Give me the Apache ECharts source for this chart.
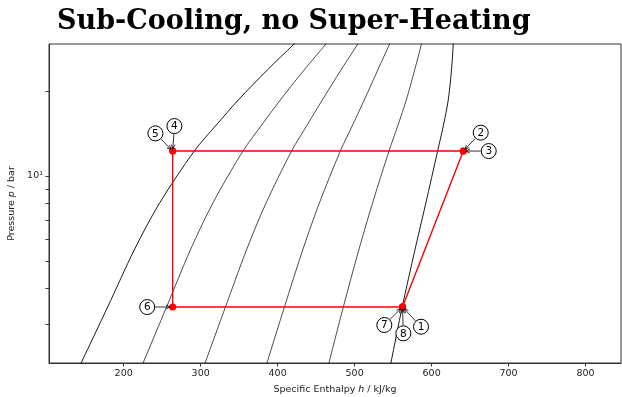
<!DOCTYPE html>
<html><head><meta charset="utf-8">
<script src="https://cdn.jsdelivr.net/npm/echarts@6/dist/echarts.min.js"></script>
<style>html,body{margin:0;padding:0;background:#fff}#c{width:622px;height:397px}</style>
</head><body><div id="c"></div>
<script>
// Saturation / quality isolines (propane-like), pressure in bar, enthalpy in kJ/kg
const pressureLevels = [2.0, 2.184, 3.444, 5.477, 7.963, 12.25, 15.14, 18.56, 23.70, 29.27, 31.0];
const hSatLiquid = [138.0, 144.7, 179.2, 213.7, 245.9, 291.7, 320.3, 348.9, 386.6, 421.4, 430.9];
const hQuality20 = [219.3, 225.2, 255.7, 286.6, 315.2, 354.9, 379.3, 403.4, 434.4, 462.7, 470.4];
const hQuality40 = [300.5, 305.7, 332.2, 359.5, 384.4, 418.1, 438.3, 458.0, 482.3, 504.1, 509.9];
const hQuality60 = [381.8, 386.1, 408.8, 432.5, 453.7, 481.4, 497.4, 512.5, 530.1, 545.4, 549.4];
const hQuality80 = [463.0, 466.6, 485.3, 505.4, 522.9, 544.6, 556.4, 567.1, 578.0, 586.8, 588.9];
const hSatVapor = [544.3, 547.1, 561.8, 578.3, 592.2, 607.8, 615.4, 621.6, 625.8, 628.1, 628.4];

// Cycle states
const stateNames = ['1', '2', '3', '4', '5', '6', '7', '8'];
const stateH = [562.2, 641.2, 641.2, 263.7, 263.7, 263.7, 562.2, 562.2];
const stateP = [3.444, 12.25, 12.25, 12.25, 12.25, 3.444, 3.444, 3.444];

// Axis ticks
const xTickValues = [200, 300, 400, 500, 600, 700, 800];
const yTickValues = [3, 4, 5, 6, 7, 8, 9, 10, 20];
const yLabelValues = [10];

// Layout: annotation circle offsets (pixels) from each state marker
const labelOffsets = {
  '1': [18.5, 19.7], '2': [17.4, -18.4], '3': [25.4, 0], '4': [1.7, -25],
  '5': [-17.3, -17.7], '6': [-25.5, 0], '7': [-18.2, 18], '8': [0.8, 26.3]
};

const FONT = 'DejaVu Sans';
const isoSets = [hSatLiquid, hQuality20, hQuality40, hQuality60, hQuality80, hSatVapor];
const isoSeries = isoSets.map((hs, k) => ({
  type: 'line',
  data: pressureLevels.map((p, i) => [hs[i], p]),
  showSymbol: false, symbol: 'none', silent: true, clip: true,
  smooth: 0.3,
  lineStyle: { color: '#000', width: (k === 0 || k === 5) ? 0.9 : 0.7 },
  z: 2
}));

const cycleData = stateNames.map((n, i) => [stateH[i], stateP[i]]);
cycleData.push([stateH[0], stateP[0]]);

const chart = echarts.init(document.getElementById('c'), null, { renderer: 'canvas' });
chart.setOption({
  animation: false,
  backgroundColor: '#fff',
  title: {
    text: 'Sub-Cooling, no Super-Heating',
    left: 57, top: 8, padding: 0,
    textStyle: { fontFamily: 'DejaVu Serif', fontWeight: 'bold', fontSize: 27, color: '#000' }
  },
  grid: { left: 49, right: 1, top: 44, bottom: 34, show: true, borderColor: '#333', borderWidth: 1,
    containLabel: false, outerBoundsMode: 'none' },
  xAxis: {
    type: 'value', min: 103, max: 846,
    name: 'Specific Enthalpy {i|h} / kJ/kg', nameLocation: 'middle', nameGap: 22,
    nameTextStyle: { fontFamily: FONT, fontSize: 9.5, color: '#222', rich: { i: { fontStyle: 'italic', fontFamily: FONT, fontSize: 9.5, color: '#222' } } },
    axisLine: { show: true, lineStyle: { color: '#333', width: 1 } },
    axisTick: { show: true, length: 3.5, customValues: xTickValues, lineStyle: { color: '#333' } },
    axisLabel: { customValues: xTickValues, fontFamily: FONT, fontSize: 9.5, color: '#222', margin: 6 },
    splitLine: { show: false }
  },
  yAxis: {
    type: 'log', logBase: 10, min: 2.184, max: 29.27,
    name: 'Pressure {i|p} / bar', nameLocation: 'middle', nameGap: 30, nameRotate: 90,
    nameTextStyle: { fontFamily: FONT, fontSize: 9.5, color: '#222', rich: { i: { fontStyle: 'italic', fontFamily: FONT, fontSize: 9.5, color: '#222' } } },
    axisLine: { show: true, lineStyle: { color: '#333', width: 1 } },
    axisTick: { show: true, length: 3.5, customValues: yTickValues, lineStyle: { color: '#333' } },
    axisLabel: { customValues: yLabelValues, fontFamily: FONT, fontSize: 9.5, color: '#222', margin: 6,
      formatter: v => (Math.abs(v - 10) < 1e-6 ? '10¹' : '') },
    splitLine: { show: false }, minorTick: { show: false }
  },
  series: isoSeries.concat([
    {
      type: 'line', data: cycleData, symbol: 'circle', symbolSize: 7, showSymbol: true,
      itemStyle: { color: '#ff0000' }, lineStyle: { color: '#ff0000', width: 1.4 }, z: 5, silent: true
    },
    {
      type: 'custom', z: 10, clip: false, silent: true,
      data: stateNames.map((n, i) => [stateH[i], stateP[i]]),
      renderItem: function (params, api) {
        const pt = api.coord([api.value(0), api.value(1)]);
        const name = stateNames[params.dataIndex];
        const off = labelOffsets[name];
        const cx = pt[0] + off[0], cy = pt[1] + off[1];
        const r = 7.5;
        const vx = pt[0] - cx, vy = pt[1] - cy;
        const d = Math.hypot(vx, vy);
        const ux = vx / d, uy = vy / d;
        const sx = cx + ux * (r + 0.5), sy = cy + uy * (r + 0.5);
        const ex = pt[0] - ux * 2.5, ey = pt[1] - uy * 2.5;
        const a = Math.atan2(uy, ux), hl = 4.5, sp = 0.45;
        const h1 = [ex - hl * Math.cos(a - sp), ey - hl * Math.sin(a - sp)];
        const h2 = [ex - hl * Math.cos(a + sp), ey - hl * Math.sin(a + sp)];
        return {
          type: 'group', children: [
            { type: 'line', shape: { x1: sx, y1: sy, x2: ex, y2: ey }, style: { stroke: '#000', lineWidth: 0.8 } },
            { type: 'polyline', shape: { points: [h1, [ex, ey], h2] }, style: { stroke: '#000', fill: null, lineWidth: 0.8 } },
            { type: 'circle', shape: { cx: cx, cy: cy, r: r }, style: { fill: '#fff', stroke: '#000', lineWidth: 1 } },
            { type: 'text', style: { text: name, x: cx, y: cy + 0.5, align: 'center', verticalAlign: 'middle', fontSize: 10.5, fontFamily: FONT, fill: '#000' } }
          ]
        };
      }
    }
  ])
});
</script>
</body></html>
